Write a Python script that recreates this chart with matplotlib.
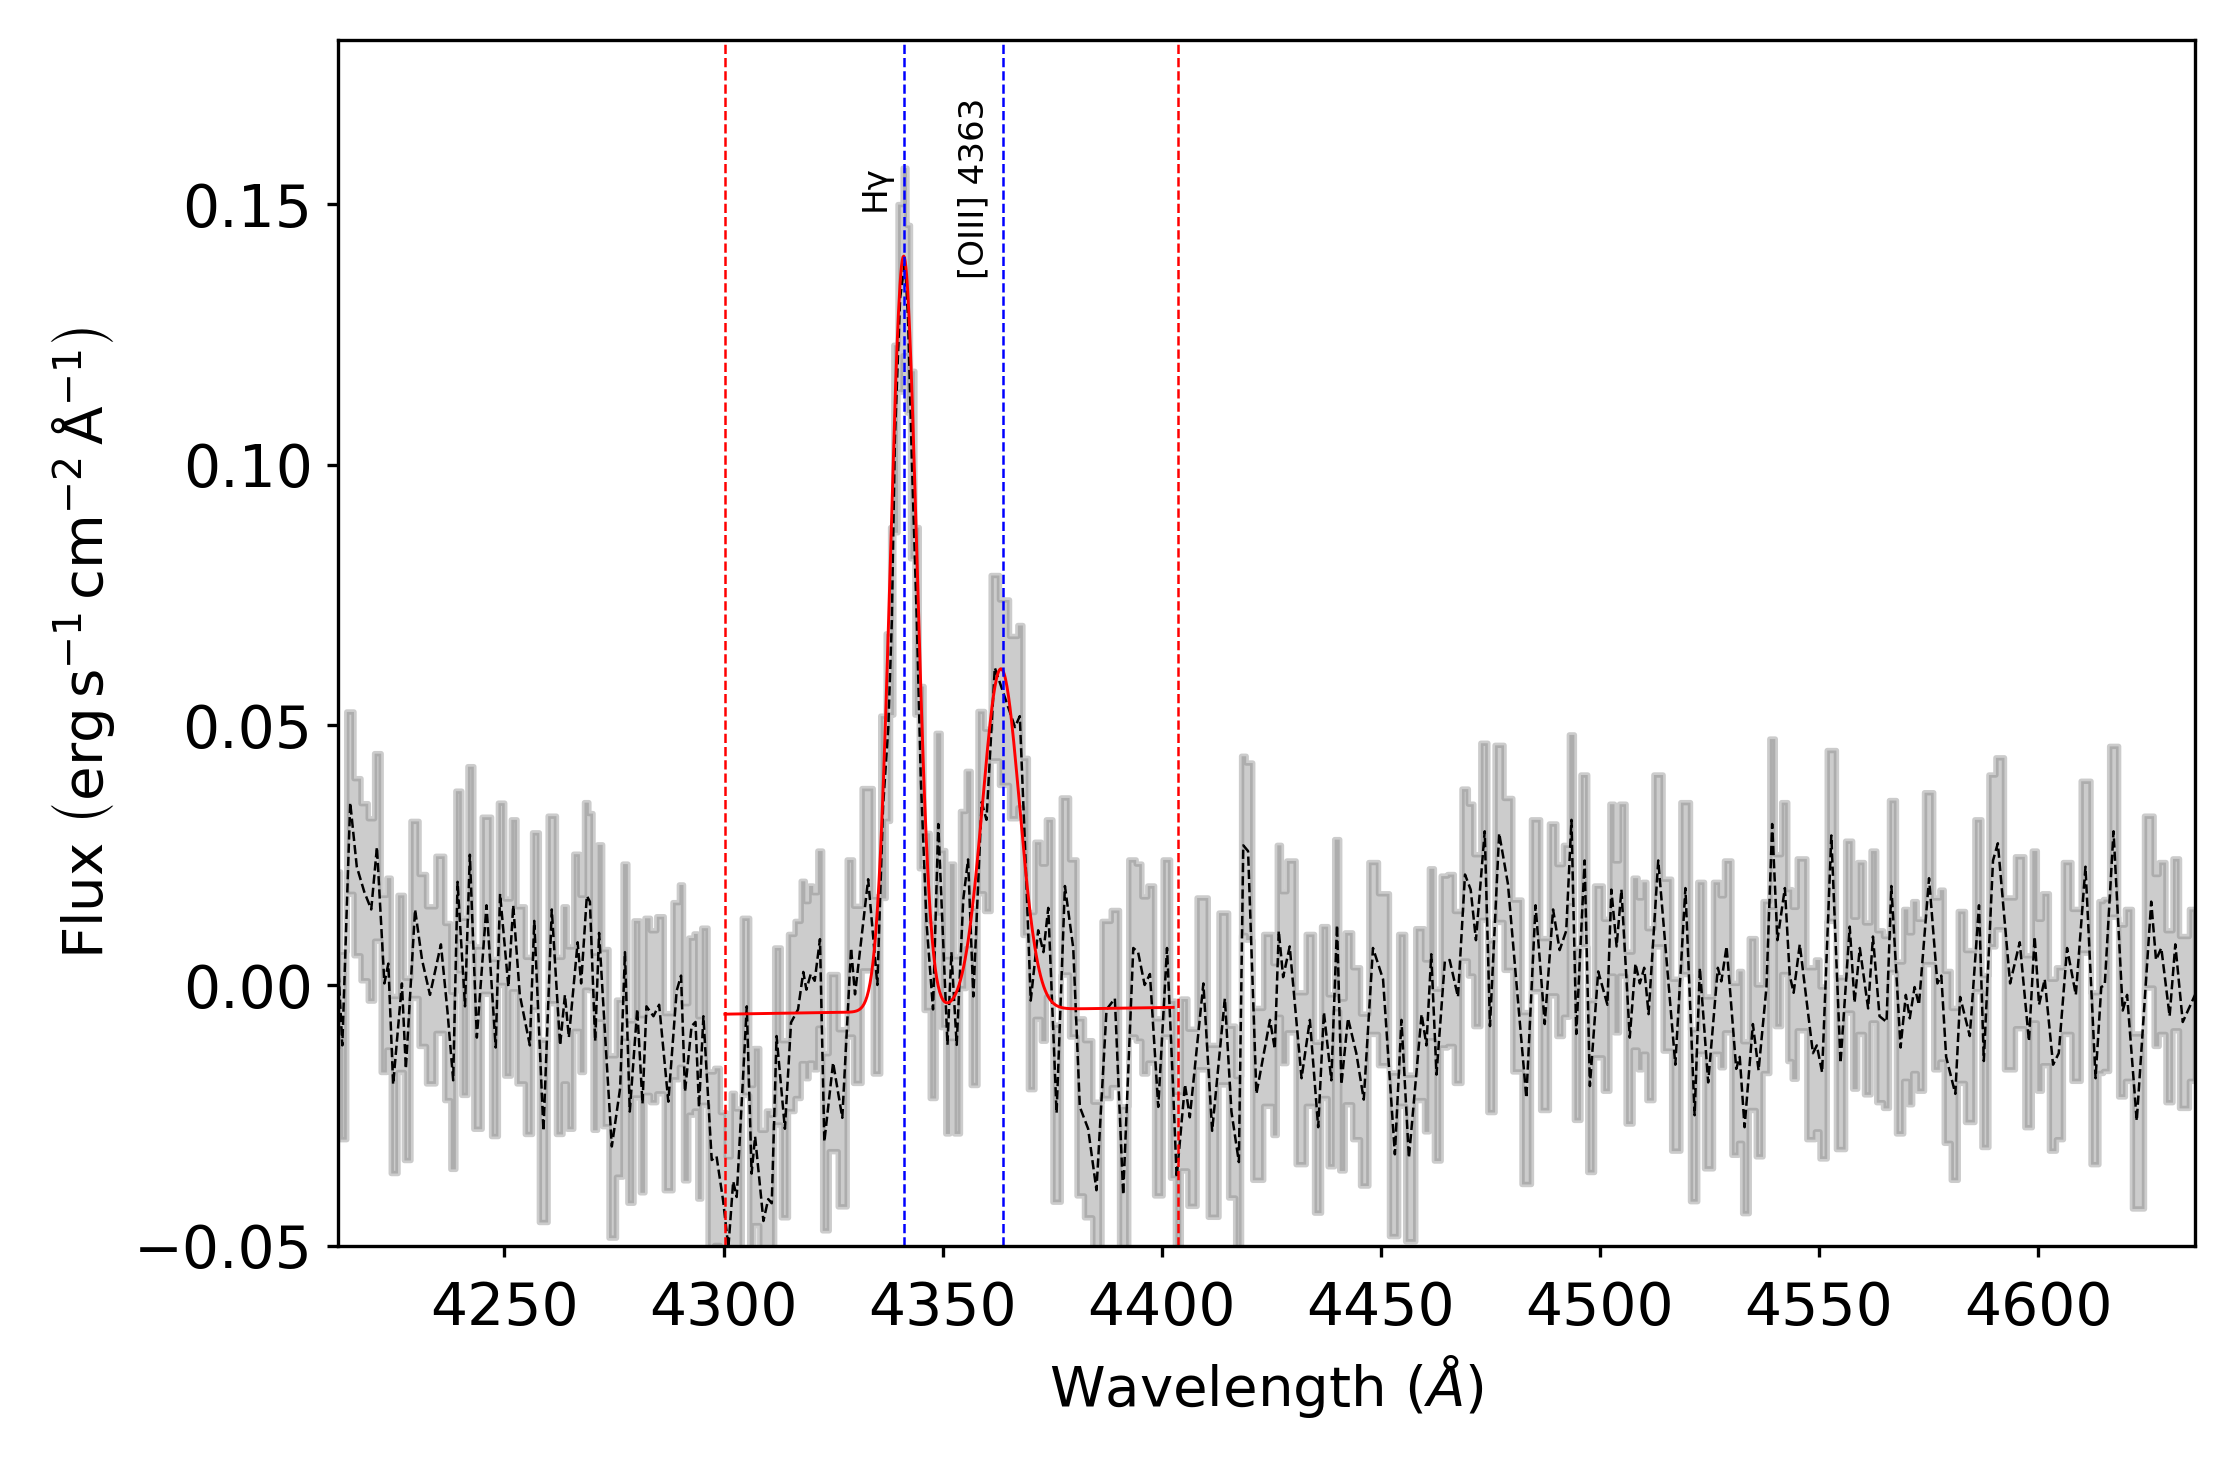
import matplotlib
matplotlib.use('Agg')
import matplotlib.pyplot as plt
import numpy as np

# spectrum (wavelength in Angstrom, flux, 1-sigma error)
wave = [4212.0, 4213.0, 4214.8, 4216.3, 4218.0, 4219.6, 4220.9, 4222.6, 4223.5, 4224.6,
        4226.6, 4227.5, 4229.6, 4231.2, 4233.0, 4235.5, 4237.0, 4238.3, 4239.3, 4241.0,
        4242.1, 4243.7, 4245.9, 4248.0, 4249.0, 4250.9, 4252.0, 4253.5, 4255.8, 4256.8,
        4258.9, 4260.8, 4262.7, 4263.8, 4264.7, 4266.7, 4267.5, 4268.8, 4269.5, 4270.7,
        4271.6, 4273.0, 4274.5, 4276.4, 4277.5, 4278.6, 4280.3, 4281.5, 4282.4, 4284.0,
        4285.3, 4287.4, 4289.3, 4290.3, 4291.2, 4292.7, 4293.6, 4294.4, 4295.4, 4297.3,
        4298.4, 4299.9, 4301.1, 4302.2, 4303.0, 4305.3, 4306.4, 4307.2, 4309.1, 4310.2,
        4311.0, 4312.1, 4314.0, 4315.4, 4317.0, 4318.2, 4318.9, 4319.9, 4320.8, 4322.0,
        4323.0, 4325.0, 4327.1, 4329.1, 4330.0, 4333.0, 4335.1, 4336.4, 4337.6, 4338.4,
        4339.1, 4340.3, 4341.4, 4342.1, 4343.0, 4344.1, 4345.0, 4346.3, 4347.8, 4349.0,
        4350.1, 4351.1, 4352.0, 4353.2, 4354.7, 4355.8, 4357.0, 4358.9, 4360.0, 4361.9,
        4363.8, 4366.5, 4367.6, 4368.8, 4370.1, 4371.8, 4373.0, 4374.1, 4376.0, 4377.9,
        4379.8, 4381.3, 4383.2, 4385.1, 4387.4, 4389.3, 4391.2, 4393.5, 4394.6, 4396.1,
        4397.3, 4399.2, 4401.2, 4402.6, 4403.4, 4405.3, 4406.4, 4409.5, 4411.5, 4414.4,
        4415.9, 4417.6, 4418.6, 4419.7, 4421.6, 4424.7, 4425.8, 4426.7, 4427.7, 4429.2,
        4431.9, 4433.8, 4435.7, 4437.0, 4438.7, 4440.0, 4441.0, 4442.5, 4444.4, 4446.1,
        4448.2, 4450.5, 4453.2, 4454.7, 4456.4, 4459.3, 4460.4, 4461.5, 4462.7, 4464.6,
        4465.7, 4467.6, 4469.2, 4470.5, 4471.7, 4473.7, 4474.9, 4477.0, 4479.0, 4481.0,
        4483.2, 4485.3, 4487.4, 4489.3, 4490.8, 4492.3, 4493.5, 4494.6, 4496.5, 4497.7,
        4499.6, 4501.7, 4502.6, 4503.8, 4504.9, 4506.8, 4508.1, 4509.1, 4510.1, 4511.1,
        4513.3, 4515.3, 4517.2, 4519.5, 4521.6, 4522.8, 4524.7, 4526.9, 4527.7, 4528.9,
        4531.1, 4531.9, 4533.0, 4534.9, 4536.2, 4538.0, 4539.3, 4540.5, 4542.2, 4543.3,
        4544.2, 4545.6, 4548.6, 4549.5, 4550.7, 4552.8, 4554.9, 4557.0, 4558.1, 4559.3,
        4561.2, 4562.3, 4563.8, 4565.4, 4566.5, 4568.6, 4569.8, 4570.7, 4571.8, 4572.8,
        4575.1, 4577.0, 4577.9, 4579.0, 4581.1, 4582.2, 4584.4, 4586.5, 4587.6, 4589.7,
        4590.8, 4593.6, 4595.8, 4597.9, 4599.2, 4600.2, 4601.5, 4603.4, 4604.7, 4606.6,
        4608.6, 4610.8, 4613.1, 4614.4, 4615.2, 4617.2, 4619.3, 4620.3, 4622.5, 4625.8,
        4626.9, 4628.1, 4630.0, 4631.3, 4633.0, 4635.8]

flux = [0.0049, -0.0115, 0.0351, 0.0228, 0.0180, 0.0146, 0.0266, 0.0004, 0.0042, -0.0190,
        0.0004, -0.0160, 0.0146, 0.0049, -0.0018, 0.0079, -0.0050, -0.0182, 0.0199, -0.0040,
        0.0251, -0.0100, 0.0154, -0.0119, 0.0176, -0.0003, 0.0154, -0.0018, -0.0115, 0.0124,
        -0.0279, 0.0146, -0.0115, -0.0018, -0.0100, 0.0083, 0.0004, 0.0172, 0.0161, -0.0107,
        0.0101, -0.0100, -0.0309, -0.0197, 0.0064, -0.0242, -0.0045, -0.0227, -0.0040, -0.0059,
        -0.0037, -0.0223, -0.0010, 0.0019, -0.0204, -0.0078, -0.0070, -0.0234, -0.0059, -0.0335,
        -0.0328, -0.0413, -0.0503, -0.0376, -0.0406, -0.0040, -0.0361, -0.0290, -0.0452, -0.0410,
        -0.0418, -0.0097, -0.0275, -0.0071, -0.0046, 0.0026, -0.0008, 0.0022, 0.0009, 0.0089,
        -0.0300, -0.0148, -0.0254, 0.0072, -0.0017, 0.0204, 0.0001, 0.0343, 0.0496, 0.0700,
        0.1050, 0.1320, 0.1390, 0.1280, 0.1000, 0.0700, 0.0400, 0.0123, -0.0046, 0.0310,
        0.0090, -0.0114, 0.0064, -0.0114, 0.0165, 0.0242, -0.0021, 0.0352, 0.0318, 0.0610,
        0.0563, 0.0496, 0.0517, 0.0267, -0.0029, 0.0106, 0.0064, 0.0149, -0.0245, 0.0191,
        0.0072, -0.0233, -0.0275, -0.0393, -0.0046, -0.0025, -0.0402, 0.0072, 0.0064, 0.0001,
        0.0022, -0.0233, 0.0072, -0.0199, -0.0369, -0.0190, -0.0253, 0.0004, -0.0279, -0.0025,
        -0.0242, -0.0339, 0.0269, 0.0258, -0.0208, -0.0066, -0.0122, 0.0105, 0.0016, 0.0075,
        -0.0178, -0.0066, -0.0272, -0.0051, -0.0182, 0.0116, -0.0190, -0.0063, -0.0130, -0.0219,
        0.0072, 0.0012, -0.0324, -0.0066, -0.0331, -0.0055, -0.0115, 0.0060, -0.0171, 0.0046,
        0.0049, -0.0022, 0.0213, 0.0184, 0.0087, 0.0296, -0.0078, 0.0292, 0.0195, 0.0000,
        -0.0216, 0.0154, -0.0074, 0.0146, 0.0068, 0.0105, 0.0318, -0.0093, 0.0240, -0.0193,
        0.0027, -0.0037, 0.0184, 0.0075, 0.0184, -0.0100, 0.0042, 0.0004, 0.0034, -0.0055,
        0.0240, 0.0040, -0.0152, 0.0187, -0.0249, 0.0034, -0.0186, 0.0034, 0.0008, 0.0075,
        -0.0160, -0.0137, -0.0272, -0.0074, -0.0163, -0.0003, 0.0310, 0.0087, 0.0187, 0.0020,
        -0.0014, 0.0079, -0.0130, -0.0115, -0.0167, 0.0288, -0.0149, 0.0113, -0.0033, 0.0072,
        -0.0044, 0.0094, -0.0059, -0.0070, 0.0191, -0.0119, -0.0018, -0.0063, -0.0003, -0.0037,
        0.0206, 0.0004, 0.0019, -0.0137, -0.0208, -0.0022, -0.0097, 0.0154, -0.0145, 0.0240,
        0.0273, 0.0004, 0.0083, -0.0107, 0.0094, -0.0037, 0.0012, -0.0152, -0.0130, 0.0072,
        -0.0018, 0.0228, -0.0178, -0.0003, 0.0001, 0.0296, -0.0048, -0.0018, -0.0260, 0.0161,
        0.0049, 0.0072, -0.0059, 0.0079, -0.0070, -0.0018]

err = [0.017, 0.018, 0.0175, 0.017, 0.017, 0.0175, 0.018, 0.017, 0.0165, 0.017,
       0.017, 0.0175, 0.017, 0.0165, 0.017, 0.017, 0.017, 0.017, 0.0175, 0.017,
       0.017, 0.0175, 0.017, 0.017, 0.0175, 0.017, 0.0165, 0.017, 0.017, 0.017,
       0.0175, 0.018, 0.017, 0.017, 0.0175, 0.017, 0.017, 0.018, 0.017, 0.017,
       0.017, 0.017, 0.0175, 0.017, 0.017, 0.0175, 0.017, 0.017, 0.017, 0.0165,
       0.017, 0.017, 0.017, 0.0175, 0.017, 0.017, 0.017, 0.0175, 0.017, 0.017,
       0.017, 0.017, 0.0175, 0.017, 0.017, 0.017, 0.017, 0.017, 0.0175, 0.017,
       0.017, 0.017, 0.017, 0.017, 0.017, 0.0175, 0.017, 0.017, 0.017, 0.017,
       0.017, 0.017, 0.017, 0.017, 0.017, 0.0175, 0.017, 0.0175, 0.018, 0.018,
       0.018, 0.018, 0.018, 0.018, 0.018, 0.018, 0.0175, 0.017, 0.017, 0.0175,
       0.017, 0.017, 0.017, 0.017, 0.017, 0.017, 0.017, 0.0175, 0.0175, 0.0178,
       0.0178, 0.0175, 0.0175, 0.017, 0.017, 0.017, 0.017, 0.017, 0.017, 0.017,
       0.017, 0.017, 0.017, 0.017, 0.017, 0.017, 0.017, 0.017, 0.017, 0.017,
       0.017, 0.017, 0.017, 0.017, 0.0165, 0.0165, 0.017, 0.0165, 0.0165, 0.0165,
       0.0165, 0.0165, 0.0172, 0.017, 0.0165, 0.0165, 0.0165, 0.0165, 0.0165, 0.0165,
       0.0165, 0.0165, 0.0164, 0.0165, 0.0165, 0.0165, 0.0165, 0.0165, 0.0165, 0.0165,
       0.0165, 0.0165, 0.0157, 0.0165, 0.016, 0.0165, 0.0165, 0.0165, 0.0165, 0.0165,
       0.0165, 0.0165, 0.0165, 0.0165, 0.0165, 0.017, 0.0165, 0.017, 0.0165, 0.0165,
       0.0165, 0.0165, 0.0165, 0.0165, 0.0165, 0.0165, 0.0164, 0.0165, 0.0165, 0.0165,
       0.0165, 0.0165, 0.0165, 0.0165, 0.0165, 0.0165, 0.0165, 0.0165, 0.0165, 0.0165,
       0.0165, 0.0165, 0.0165, 0.0165, 0.0165, 0.0165, 0.0165, 0.0165, 0.0165, 0.0165,
       0.0165, 0.0165, 0.0165, 0.0165, 0.0165, 0.0165, 0.0164, 0.0165, 0.0165, 0.0165,
       0.0165, 0.0165, 0.0165, 0.0165, 0.0165, 0.0164, 0.0165, 0.0165, 0.0165, 0.0165,
       0.0165, 0.0165, 0.0165, 0.0165, 0.0165, 0.0165, 0.0165, 0.0165, 0.0165, 0.0165,
       0.0165, 0.0165, 0.0165, 0.0165, 0.0165, 0.0165, 0.0165, 0.0165, 0.0165, 0.0165,
       0.0165, 0.0165, 0.0165, 0.0165, 0.0165, 0.0165, 0.0165, 0.0165, 0.0165, 0.0165,
       0.0165, 0.0165, 0.0165, 0.0165, 0.0165, 0.0164, 0.0165, 0.0165, 0.0168, 0.0165,
       0.0165, 0.0165, 0.0165, 0.0165, 0.0165, 0.0165]

# fit window and emission lines
fit_window = [4300.3, 4403.6]
line_names = ['Hγ', '[OIII] 4363']
line_waves = [4341.2, 4363.8]

# gaussian fit results: continuum at both window ends, then amplitude, centre, sigma per line
cont_ends = [-0.0055, -0.0042]
fit_amp = [0.145, 0.0655]
fit_cen = [4341.1, 4363.3]
fit_sig = [3.0, 4.2]

wave = np.array(wave)
flux = np.array(flux)
err = np.array(err)

fig = plt.figure(figsize=(7.46, 4.9), dpi=300)
ax = fig.add_axes([0.151, 0.1524, 0.8298, 0.8204])

ax.fill_between(wave, flux - err, flux + err, step='mid', color='gray', alpha=0.4, lw=1.3)
ax.plot(wave, flux, 'k--', lw=0.6)

# model
xm = np.linspace(fit_window[0], 4402.6, 600)
model = np.interp(xm, [fit_window[0], 4402.6], cont_ends)
for a, c, s in zip(fit_amp, fit_cen, fit_sig):
    model = model + a * np.exp(-(xm - c)**2 / (2 * s**2))
ax.plot(xm, model, 'r-', lw=0.7)

for w in fit_window:
    ax.axvline(w, color='r', ls='--', lw=0.6)
for name, w in zip(line_names, line_waves):
    ax.axvline(w, color='b', ls='--', lw=0.6)
    ax.text(w - 6.6, 0.153, name, rotation=90, ha='center', va='center', fontsize=8.2)

ax.set_xlim(4212.0, 4635.8)
ax.set_ylim(-0.05, 0.1815)
ax.tick_params(labelsize=14, length=2.6)
ax.tick_params(axis='x', pad=5.5)
ax.set_xlabel(r'Wavelength ($Å$)', fontsize=13.5)
ax.set_ylabel(r'Flux $\left(\rm erg\,s^{-1}\,cm^{-2}\,\AA^{-1}\right)$', fontsize=13.5)

fig.savefig('out.png', dpi=300)
